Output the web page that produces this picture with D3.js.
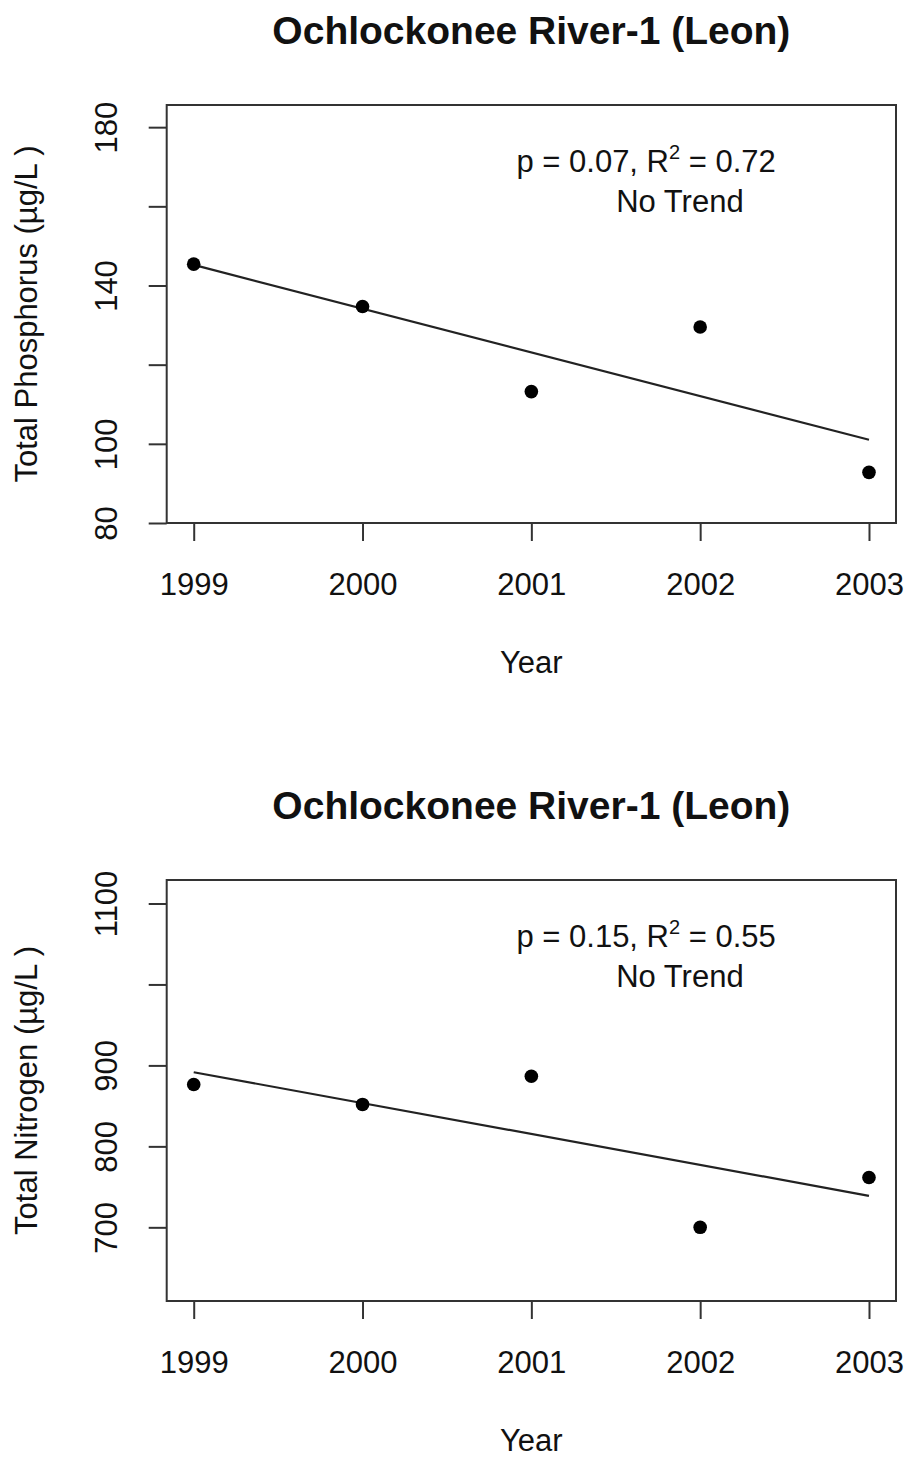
<!DOCTYPE html>
<html>
<head>
<meta charset="utf-8">
<script src="https://cdn.jsdelivr.net/npm/d3@7"></script>
<style>
  body { margin: 0; background: #fff; }
  svg { display: block; font-family: "Liberation Sans", Arial, sans-serif; }
  .domain, .tick line { stroke: #333; stroke-width: 2; }
</style>
</head>
<body>
<script>
// values
const years = [1999, 2000, 2001, 2002, 2003]
const phosphorus = [145.4, 134.7, 113.2, 129.5, 92.8]
const nitrogen = [876.4, 851.8, 886.6, 700, 761.5]

const tpTicks = [80, 100, 120, 140, 160, 180]
const tpLabels = [80, 100, 140, 180]
const tnTicks = [700, 800, 900, 1000, 1100]
const tnLabels = [700, 800, 900, 1100]

const titles = ['Ochlockonee River-1 (Leon)', 'Ochlockonee River-1 (Leon)']
const yTitles = ['Total Phosphorus (\u00b5g/L )', 'Total Nitrogen (\u00b5g/L )']
const pValues = ['0.07', '0.15']
const r2Values = ['0.72', '0.55']
const trendText = ['No Trend', 'No Trend']

const W = 909, H = 1457
const svg = d3.select('body').append('svg')
  .attr('width', W).attr('height', H)

const panels = [
  { top: 105, bottom: 523, values: phosphorus, domain: [80, 185.6], ticks: tpTicks, labels: tpLabels },
  { top: 880, bottom: 1301, values: nitrogen, domain: [609, 1129], ticks: tnTicks, labels: tnLabels }
]

// least squares fit, like abline(lm(y ~ x))
function fit(xs, ys){
  const mx = d3.mean(xs), my = d3.mean(ys)
  const b = d3.sum(xs, (x,i) => (x-mx)*(ys[i]-my)) / d3.sum(xs, x => (x-mx)*(x-mx))
  return x => my + b*(x-mx)
}

panels.forEach((p, k) => {
  const left = 166.7, right = 896
  const x = d3.scaleLinear().domain([1998.84, 2003.16]).range([left, right])
  const y = d3.scaleLinear().domain(p.domain).range([p.bottom, p.top])
  const g = svg.append('g')
  const cx = (left + right) / 2

  // x axis
  const xa = g.append('g')
    .attr('transform', `translate(0,${p.bottom})`)
    .call(d3.axisBottom(x).tickValues(years).tickFormat(d3.format('d')).tickSize(18).tickPadding(32).tickSizeOuter(0))
  xa.select('.domain').remove()
  xa.selectAll('text').attr('font-size', 31).attr('fill', '#111').attr('font-family', null)

  // y axis
  const ya = g.append('g')
    .attr('transform', `translate(${left},0)`)
    .call(d3.axisLeft(y).tickValues(p.ticks).tickSize(18).tickSizeOuter(0)
      .tickFormat(d => p.labels.includes(d) ? d : ''))
  ya.select('.domain').remove()
  ya.selectAll('text')
    .attr('font-size', 31).attr('fill', '#111').attr('font-family', null)
    .attr('text-anchor', 'middle')
    .attr('x', 0).attr('y', -50).attr('dy', null)
    .attr('transform', 'rotate(-90)')

  // box
  g.append('rect')
    .attr('x', left).attr('y', p.top)
    .attr('width', right-left).attr('height', p.bottom-p.top)
    .attr('fill', 'none').attr('stroke', '#333').attr('stroke-width', 2)

  // titles
  g.append('text')
    .attr('x', cx).attr('y', p.top - 61)
    .attr('text-anchor', 'middle')
    .attr('font-size', 39).attr('font-weight', 'bold').attr('fill', '#111')
    .text(titles[k])
  g.append('text')
    .attr('x', cx).attr('y', p.bottom + 150)
    .attr('text-anchor', 'middle')
    .attr('font-size', 31).attr('fill', '#111')
    .text('Year')
  g.append('text')
    .attr('transform', `translate(37,${(p.top+p.bottom)/2}) rotate(-90)`)
    .attr('text-anchor', 'middle')
    .attr('font-size', 31).attr('fill', '#111')
    .text(yTitles[k])

  // regression line
  const f = fit(years, p.values)
  g.append('path')
    .attr('d', d3.line().x(d => x(d)).y(d => y(f(d)))([years[0], years[years.length-1]]))
    .attr('fill', 'none').attr('stroke', '#222').attr('stroke-width', 2.2)

  // points
  g.selectAll('circle.pt').data(years).enter().append('circle')
    .attr('class', 'pt')
    .attr('cx', d => x(d))
    .attr('cy', (d,i) => y(p.values[i]))
    .attr('r', 6.8)
    .attr('fill', '#000')

  // annotation
  const ann = g.append('text')
    .attr('x', x(2001.68)).attr('y', p.top + 67)
    .attr('text-anchor', 'middle')
    .attr('font-size', 31).attr('fill', '#111')
  ann.append('tspan').text(`p = ${pValues[k]}, R`)
  ann.append('tspan').attr('dy', -13).attr('font-size', 20).text('2')
  ann.append('tspan').attr('dy', 13).text(` = ${r2Values[k]}`)
  g.append('text')
    .attr('x', x(2001.88)).attr('y', p.top + 107)
    .attr('text-anchor', 'middle')
    .attr('font-size', 31).attr('fill', '#111')
    .text(trendText[k])
})
</script>
</body>
</html>
